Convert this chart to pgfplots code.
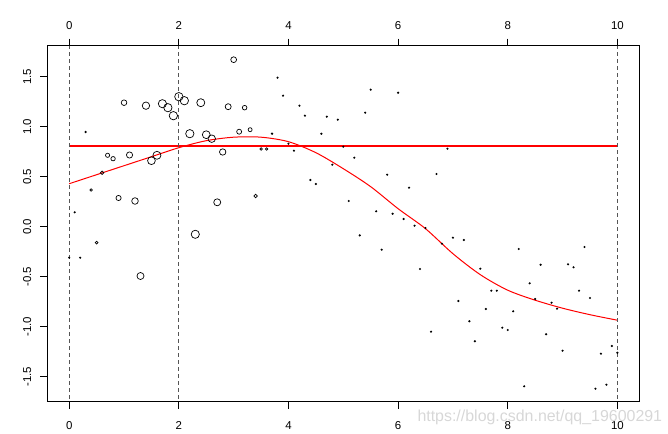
\documentclass[border=0pt]{standalone}
\usepackage{pgfplots}
\usepackage{pgfplotstable}
\pgfplotsset{compat=1.18}
\usepackage{fontspec}
\setmainfont{Liberation Sans}
\definecolor{pred}{RGB}{255,0,0}
\definecolor{dgray}{RGB}{85,85,85}
\definecolor{pblack}{RGB}{0,0,0}
\definecolor{wm}{RGB}{215,215,215}

\pgfplotstableread{
x y r
0.0 -0.31 0.7
0.1 0.144 0.7
0.2 -0.31 0.7
0.3 0.947 0.8
0.4 0.367 1.22
0.5 -0.16 1.4
0.6 0.54 1.7
0.7 0.714 2.1
0.8 0.68 2.2
0.9 0.287 2.6
1.0 1.24 2.8
1.1 0.717 3.1
1.2 0.257 3.3
1.3 -0.493 3.5
1.4 1.21 3.7
1.5 0.66 3.9
1.6 0.714 4.0
1.7 1.23 4.1
1.8 1.19 4.15
1.9 1.11 4.19
2.0 1.30 4.2
2.1 1.26 4.19
2.2 0.93 4.15
2.3 -0.076 4.09
2.4 1.24 4.01
2.5 0.92 3.91
2.6 0.88 3.75
2.7 0.244 3.5
2.8 0.747 3.2
2.9 1.20 3.0
3.0 1.67 2.9
3.1 0.95 2.5
3.2 1.19 2.3
3.3 0.97 2.0
3.4 0.307 1.8
3.5 0.777 1.3
3.6 0.777 1.2
3.7 0.93 0.8
3.8 1.49 0.7
3.9 1.31 0.7
4.0 0.83 0.7
4.1 0.76 0.7
4.2 1.21 0.7
4.3 1.11 0.7
4.4 0.467 0.7
4.5 0.427 0.7
4.6 0.93 0.7
4.7 1.10 0.7
4.8 0.62 0.7
4.9 1.07 0.7
5.0 0.80 0.7
5.1 0.257 0.7
5.2 0.69 0.7
5.3 -0.087 0.7
5.4 1.14 0.7
5.5 1.37 0.7
5.6 0.154 0.7
5.7 -0.23 0.7
5.8 0.52 0.7
5.9 0.13 0.7
6.0 1.34 0.7
6.1 0.077 0.7
6.2 0.39 0.7
6.3 0.01 0.7
6.4 -0.423 0.7
6.5 -0.013 0.7
6.6 -1.05 0.7
6.7 0.527 0.7
6.8 -0.17 0.7
6.9 0.78 0.7
7.0 -0.11 0.7
7.1 -0.743 0.7
7.2 -0.133 0.7
7.3 -0.946 0.7
7.4 -1.146 0.7
7.5 -0.42 0.7
7.6 -0.823 0.7
7.7 -0.64 0.7
7.8 -0.64 0.7
7.9 -1.01 0.7
8.0 -1.033 0.7
8.1 -0.846 0.7
8.2 -0.223 0.7
8.3 -1.596 0.7
8.4 -0.566 0.7
8.5 -0.723 0.7
8.6 -0.38 0.7
8.7 -1.076 0.7
8.8 -0.76 0.7
8.9 -0.82 0.7
9.0 -1.24 0.7
9.1 -0.376 0.7
9.2 -0.406 0.7
9.3 -0.64 0.7
9.4 -0.203 0.7
9.5 -0.713 0.7
9.6 -1.62 0.7
9.7 -1.27 0.7
9.8 -1.58 0.7
9.9 -1.193 0.7
10.0 -1.26 0.7
}\pts

\pgfplotstableread{
x y
0.0 0.43
0.5 0.52
1.0 0.61
1.5 0.70
2.0 0.79
2.5 0.86
3.0 0.895
3.5 0.895
4.0 0.85
4.5 0.74
5.0 0.58
5.5 0.40
6.0 0.18
6.5 -0.02
7.0 -0.27
7.5 -0.48
8.0 -0.635
8.5 -0.735
9.0 -0.815
9.5 -0.88
10.0 -0.935
}\fitline

\pgfplotstableread{
x y
0 0.81
10 0.81
}\meanline

\begin{document}
\begin{tikzpicture}
\useasboundingbox (-47.3bp,-32.3bp) rectangle (620.7bp,401.7bp);
\pgfplotsset{
  common/.style={
    at={(0,0)}, anchor=south west, scale only axis,
    width=592bp, height=356bp,
    xmin=-0.4, xmax=10.4, ymin=-1.75, ymax=1.81,
    axis line style={pblack, line width=0.75bp},
    tick style={pblack, line width=0.75bp},
    tick align=outside, major tick length=7bp,
    tick label style={font=\fontsize{11.5}{13}\selectfont},
    xtick={0,2,4,6,8,10},
    xticklabels={0,2,4,6,8,10},
  }
}
\begin{axis}[common,
  xtick pos=left,
  ytick={-1.5,-1,-0.5,0,0.5,1,1.5},
  yticklabels={-1.5,-1.0,-0.5,0.0,0.5,1.0,1.5},
  ytick pos=left,
  yticklabel style={rotate=90, anchor=south},
  xticklabel style={anchor=north},
  xticklabel shift=9bp,
  yticklabel shift=5.5bp,
]
\addplot[draw=pred, line width=2bp, no marks] table[x=x, y=y] {\meanline};
\addplot[draw=pred, line width=1bp, smooth, tension=0.5, no marks] table[x=x, y=y] {\fitline};
\addplot[draw=dgray, line width=0.8bp, dash pattern=on 4bp off 3bp] coordinates {(0,-2) (0,2)};
\addplot[draw=dgray, line width=0.8bp, dash pattern=on 4bp off 3bp] coordinates {(2,-2) (2,2)};
\addplot[draw=dgray, line width=0.8bp, dash pattern=on 4bp off 3bp] coordinates {(10,-2) (10,2)};
\addplot[scatter, only marks, mark=o, line width=0.7bp,
  scatter/use mapped color={draw=pblack, fill=pblack},
  visualization depends on={\thisrow{r}\as\rad},
  scatter/@pre marker code/.append style={/tikz/mark size=\rad bp}]
  table[x=x, y=y] {\pts};
\end{axis}
\begin{axis}[common,
  xtick pos=right, xticklabel pos=right,
  ytick=\empty,
  xticklabel style={anchor=south},
  xticklabel shift=6bp,
]
\end{axis}
\node[anchor=base west, text=wm, font=\fontsize{16}{18}\selectfont, inner sep=0pt] at (370bp,-19.3bp) {https://blog.csdn.net/qq\_19600291};
\end{tikzpicture}
\end{document}
